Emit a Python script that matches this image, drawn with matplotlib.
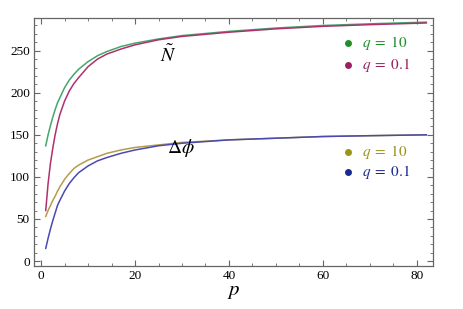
import matplotlib
matplotlib.use("Agg")
import matplotlib.pyplot as plt
from matplotlib.ticker import MultipleLocator

plt.rcParams["font.family"] = "Liberation Serif"
plt.rcParams["mathtext.fontset"] = "stix"

# values
p = [1, 1.5, 2, 2.5, 3, 3.5, 4, 5, 6, 7, 8, 10, 12, 14, 17, 20, 25, 30, 40, 50, 60, 70, 82]
n_q10 = [137, 150, 161, 171, 180, 188, 194, 206, 215, 222, 228, 237, 244, 249, 255, 259, 264, 268, 273, 277, 280, 282, 284]
n_q01 = [60, 92, 116, 134, 150, 163, 174, 190, 202, 211, 218, 231, 240, 246, 252, 257, 263, 267, 272, 276, 279, 281, 283]
phi_q10 = [53, 60, 66, 72, 77, 83, 88, 97, 104, 110, 114, 120, 124, 128, 132, 135, 138, 141, 144, 146, 148, 149, 150]
phi_q01 = [15, 27, 38, 48, 57, 66, 72, 83, 92, 99, 105, 113, 119, 123, 128, 132, 137, 140, 144, 146, 148, 149, 150]

fig = plt.figure(figsize=(4.63, 3.09), dpi=100)
ax = fig.add_axes([0.0734, 0.139, 0.8616, 0.803])

ax.plot(p, n_q10, color="#45a66a", lw=1.1)
ax.plot(p, n_q01, color="#b0306e", lw=1.1)
ax.plot(p, phi_q10, color="#b59c4a", lw=1.1)
ax.plot(p, phi_q01, color="#4a4ab0", lw=1.1)

ax.set_xlim(-1.5, 83.4)
ax.set_ylim(-6, 289)

frame = "#666666"
for s in ax.spines.values():
    s.set_color(frame)
    s.set_linewidth(0.9)
ax.xaxis.set_major_locator(MultipleLocator(20))
ax.xaxis.set_minor_locator(MultipleLocator(5))
ax.yaxis.set_major_locator(MultipleLocator(50))
ax.yaxis.set_minor_locator(MultipleLocator(10))
ax.tick_params(which="both", direction="in", top=True, right=True, color=frame,
               labelsize=9.5, pad=3)
ax.tick_params(which="major", length=4, width=0.8)
ax.tick_params(which="minor", length=2, width=0.6)

ax.set_xlabel(r"$p$", fontsize=15, labelpad=0)

ax.text(27, 245, r"$\tilde{N}$", fontsize=14, ha="center", va="center")
ax.text(29.8, 134, r"$\Delta\phi$", fontsize=14, ha="center", va="center")

# legend markers and labels
legend = [
    (259, "#1f8f2a", r"$q\;=\;10$"),
    (233, "#9a2060", r"$q\;=\;0.1$"),
    (130, "#9a9418", r"$q\;=\;10$"),
    (106, "#1a2a8c", r"$q\;=\;0.1$"),
]
for y, c, lab in legend:
    ax.plot([65.4], [y], "o", color=c, ms=5, mec="none")
    ax.text(68.4, y, lab, color=c, fontsize=11, va="center", ha="left")

fig.savefig("out.png", dpi=100)
